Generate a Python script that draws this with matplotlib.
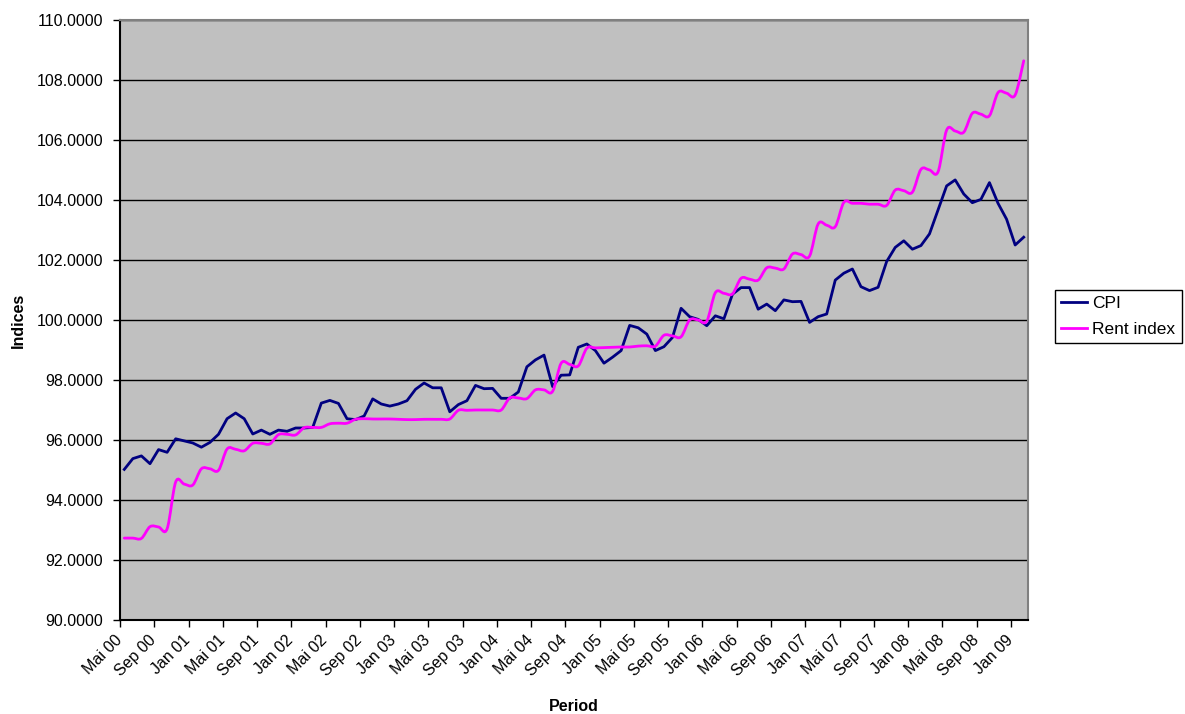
import numpy as np
import matplotlib
matplotlib.use("Agg")
import matplotlib.pyplot as plt
import matplotlib.transforms as mtransforms
from matplotlib.path import Path
from matplotlib.patches import PathPatch
from matplotlib.lines import Line2D

plt.rcParams['font.family'] = ['Liberation Sans', 'DejaVu Sans']

# monthly periods, Mai 00 .. Feb 09
months = ["Jan", "Feb", "Mrz", "Apr", "Mai", "Jun", "Jul", "Aug", "Sep", "Okt", "Nov", "Dez"]
periods = []
for k in range(106):
    m = (4 + k) % 12
    y = (2000 + (4 + k) // 12) % 100
    periods.append("%s %02d" % (months[m], y))

cpi = [95.02, 95.38, 95.47, 95.21, 95.68, 95.59, 96.04, 95.97, 95.90, 95.76,
       95.92, 96.19, 96.71, 96.90, 96.71, 96.20, 96.33, 96.19, 96.33, 96.29,
       96.40, 96.40, 96.42, 97.23, 97.32, 97.22, 96.71, 96.68, 96.80, 97.37,
       97.20, 97.13, 97.20, 97.31, 97.69, 97.90, 97.74, 97.74, 96.94, 97.18,
       97.31, 97.82, 97.71, 97.72, 97.39, 97.39, 97.60, 98.44, 98.67, 98.83,
       97.78, 98.16, 98.17, 99.09, 99.20, 98.98, 98.56, 98.76, 98.98, 99.82,
       99.74, 99.53, 98.98, 99.11, 99.42, 100.39, 100.11, 100.02, 99.81, 100.14,
       100.04, 100.86, 101.08, 101.08, 100.36, 100.53, 100.31, 100.67, 100.61, 100.62,
       99.92, 100.11, 100.20, 101.33, 101.56, 101.70, 101.11, 100.98, 101.09, 101.95,
       102.42, 102.64, 102.36, 102.48, 102.87, 103.67, 104.47, 104.67, 104.20, 103.91,
       104.02, 104.58, 103.89, 103.36, 102.50, 102.76]

rent = [92.73, 92.73, 92.72, 93.11, 93.10, 93.04, 94.60, 94.53, 94.50, 95.04,
        95.04, 94.99, 95.70, 95.69, 95.64, 95.89, 95.89, 95.87, 96.18, 96.19,
        96.17, 96.41, 96.42, 96.42, 96.54, 96.56, 96.56, 96.69, 96.71, 96.70,
        96.70, 96.70, 96.69, 96.68, 96.68, 96.69, 96.69, 96.69, 96.70, 96.99,
        96.99, 97.00, 97.00, 97.00, 97.00, 97.40, 97.40, 97.38, 97.67, 97.67,
        97.62, 98.56, 98.52, 98.47, 99.06, 99.07, 99.08, 99.09, 99.10, 99.10,
        99.13, 99.14, 99.13, 99.49, 99.47, 99.44, 100.00, 100.00, 99.96, 100.91,
        100.89, 100.87, 101.39, 101.36, 101.33, 101.74, 101.73, 101.70, 102.20, 102.18,
        102.13, 103.20, 103.16, 103.11, 103.92, 103.89, 103.89, 103.86, 103.86, 103.82,
        104.33, 104.31, 104.26, 105.02, 105.00, 104.94, 106.33, 106.30, 106.26, 106.89,
        106.86, 106.81, 107.58, 107.56, 107.50, 108.64]


def smooth_path(xs, ys):
    # Catmull-Rom style bezier through every point (like a "smoothed line")
    pts = np.column_stack([xs, ys])
    n = len(pts)
    verts = [pts[0]]
    codes = [Path.MOVETO]
    for i in range(n - 1):
        p0 = pts[i - 1] if i > 0 else pts[i]
        p1 = pts[i]
        p2 = pts[i + 1]
        p3 = pts[i + 2] if i + 2 < n else pts[i + 1]
        c1 = p1 + (p2 - p0) / 6.0
        c2 = p2 - (p3 - p1) / 6.0
        verts += [c1, c2, p2]
        codes += [Path.CURVE4] * 3
    return Path(verts, codes)


fig = plt.figure(figsize=(11.85, 7.14), dpi=100)
ax = fig.add_axes([120 / 1185, 1 - 620 / 714, 908 / 1185, 600 / 714])
ax.set_facecolor("#C0C0C0")

x = np.arange(len(periods))

ax.plot(x, cpi, color="#000080", lw=2.0, zorder=3, solid_joinstyle="round")
rent_patch = PathPatch(smooth_path(x, rent), facecolor="none", edgecolor="#FF00FF",
                       lw=2.0, zorder=3, capstyle="round")
ax.add_patch(rent_patch)

ax.set_xlim(-0.5, len(periods) - 0.5)
ax.set_ylim(90, 110)

# y axis
ax.set_yticks(np.arange(90, 110.1, 2))
ax.set_yticklabels(["%.4f" % v for v in np.arange(90, 110.1, 2)])
ax.yaxis.grid(True, color="black", lw=1.0)
ax.set_axisbelow(True)

# x axis: ticks between categories, labels on every 4th category
ax.set_xticks(np.arange(-0.5, len(periods), 4))
ax.set_xticklabels([])
ax.set_xticks(np.arange(0, len(periods), 4), minor=True)
ax.set_xticklabels([periods[i] for i in range(0, len(periods), 4)], minor=True,
                   rotation=45, ha="right", rotation_mode="anchor")
ax.tick_params(axis="x", which="minor", length=0, pad=9, labelsize=11.5)
ax.tick_params(axis="x", which="major", length=5, width=1, color="black", direction="out")
ax.tick_params(axis="y", length=5, width=1, color="black", pad=7, labelsize=11.5)

# nudge the rotated month labels a little to the left
shift = mtransforms.ScaledTranslation(-10 / 100, 0, fig.dpi_scale_trans)
for lab in ax.get_xticklabels(minor=True):
    lab.set_transform(lab.get_transform() + shift)

for s in ax.spines.values():
    s.set_color("#808080")
    s.set_linewidth(1.5)
ax.spines["left"].set_color("black")
ax.spines["bottom"].set_color("black")

ax.set_xlabel("Period", fontsize=11.5, fontweight="bold", labelpad=14)
ax.set_ylabel("Indices", fontsize=11.5, fontweight="bold", labelpad=8)

handles = [Line2D([], [], color="#000080", lw=2.0),
           Line2D([], [], color="#FF00FF", lw=2.0)]
leg = fig.legend(handles, ["CPI", "Rent index"], loc="upper left",
                 bbox_to_anchor=(1055 / 1185, 1 - 290 / 714), borderaxespad=0,
                 fontsize=12.5, frameon=True, fancybox=False, edgecolor="black",
                 framealpha=1, handlelength=1.5, handletextpad=0.3,
                 borderpad=0.35, labelspacing=0.6)
leg.get_frame().set_linewidth(1.0)

fig.savefig("out.png", dpi=100)
